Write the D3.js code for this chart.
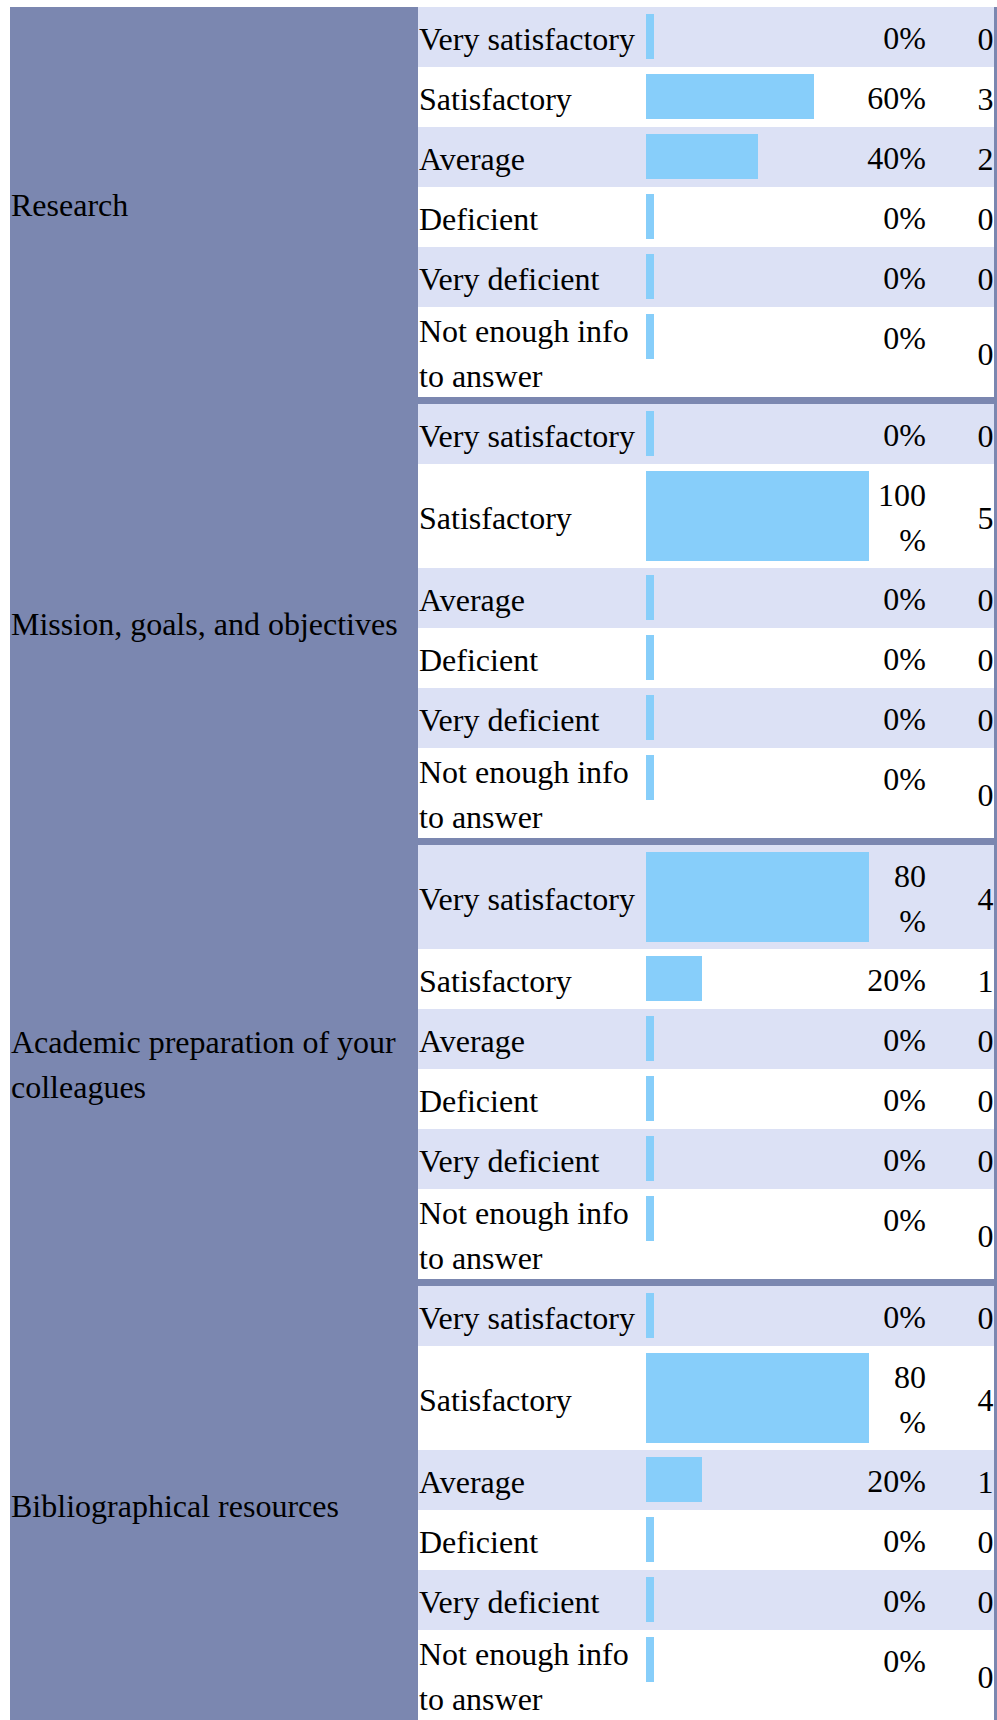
<!DOCTYPE html>
<html>
<head>
<meta charset="utf-8">
<script src="https://cdn.jsdelivr.net/npm/d3@7"></script>
<style>
  html, body { margin: 0; padding: 0; background: #ffffff; }
  svg { display: block; }
  text { font-family: "Liberation Serif", "Times New Roman", Times, serif; font-size: 32px; fill: #000; }
</style>
</head>
<body>
<script>
// ---------------- data ----------------
const groups = [
  "Research",
  "Mission, goals, and objectives",
  "Academic preparation of your colleagues",
  "Bibliographical resources"
];
const answers = [
  "Very satisfactory",
  "Satisfactory",
  "Average",
  "Deficient",
  "Very deficient",
  "Not enough info to answer"
];
const pctResearch   = [0, 60, 40, 0, 0, 0];
const pctMission    = [0, 100, 0, 0, 0, 0];
const pctAcademic   = [80, 20, 0, 0, 0, 0];
const pctBiblio     = [0, 80, 20, 0, 0, 0];
const cntResearch   = [0, 3, 2, 0, 0, 0];
const cntMission    = [0, 5, 0, 0, 0, 0];
const cntAcademic   = [4, 1, 0, 0, 0, 0];
const cntBiblio     = [0, 4, 1, 0, 0, 0];
const pctByGroup = [pctResearch, pctMission, pctAcademic, pctBiblio];
const cntByGroup = [cntResearch, cntMission, cntAcademic, cntBiblio];

// ---------------- layout / style ----------------
const W = 997, H = 1720;
const LINE = 45;            // line height
const TOP = 7;
const LEFT_X = 10, LEFT_END = 418, RIGHT_END = 994;
const LABEL_X = 419, LABEL_W = 226;
const BAR_X = 646, BAR_CELL_W = 223, MIN_BAR = 8, BAR_PAD = 7;
const PCT_RIGHT = 926, CNT_RIGHT = 993.5;
const SEP = 7, MIN_ROW = 60;
const BASE = 35;            // baseline offset inside a line box
const C_PURPLE = "#7b87b0", C_LIGHT = "#dce1f5", C_WHITE = "#ffffff", C_BAR = "#87cefa";

const svg = d3.select("body").append("svg").attr("width", W).attr("height", H);
const x = d3.scaleLinear().domain([0, 100]).range([0, 280]);

// measuring helper
const meas = svg.append("text").attr("x", -1000).attr("y", -1000);
function textW(s) { meas.text(s); return meas.node().getComputedTextLength(); }
function wrap(s, maxW) {
  const words = s.split(" ");
  const lines = [];
  let cur = "";
  words.forEach(w => {
    const t = cur ? cur + " " + w : w;
    if (cur && textW(t) > maxW) { lines.push(cur); cur = w; } else { cur = t; }
  });
  if (cur) lines.push(cur);
  return lines;
}

// background (table frame colour)
svg.append("rect").attr("x", LEFT_X).attr("y", TOP).attr("width", W - LEFT_X).attr("height", H - TOP).attr("fill", C_PURPLE);

const gRows = svg.append("g");
const gText = svg.append("g");

let y = TOP;
groups.forEach((gName, gi) => {
  const groupTop = y;
  answers.forEach((ans, i) => {
    const p = pctByGroup[gi][i];
    const c = cntByGroup[gi][i];
    const labelLines = wrap(ans, LABEL_W);
    const barW = Math.max(MIN_BAR, Math.min(x(p), BAR_CELL_W));
    const pctStr = p + "%";
    const pctWrap = BAR_X + barW + 4 > PCT_RIGHT - textW(pctStr);
    const pctLines = pctWrap ? [String(p), "%"] : [pctStr];
    const rowH = Math.max(MIN_ROW, labelLines.length * LINE, pctLines.length * LINE + 2 * BAR_PAD);

    gRows.append("rect")
      .attr("x", LEFT_END).attr("y", y)
      .attr("width", RIGHT_END - LEFT_END).attr("height", rowH)
      .attr("fill", i % 2 === 0 ? C_LIGHT : C_WHITE);

    gRows.append("rect")
      .attr("x", BAR_X).attr("y", y + BAR_PAD)
      .attr("width", barW).attr("height", pctLines.length * LINE)
      .attr("fill", C_BAR);

    // answer label, vertically centred
    const lTop = y + (rowH - labelLines.length * LINE) / 2;
    labelLines.forEach((ln, k) => {
      gText.append("text").attr("x", LABEL_X).attr("y", lTop + BASE + k * LINE).text(ln);
    });

    // percentage, top aligned
    pctLines.forEach((ln, k) => {
      gText.append("text").attr("x", PCT_RIGHT).attr("y", y + BAR_PAD + BASE + k * LINE)
        .attr("text-anchor", "end").text(ln);
    });

    // count, vertically centred
    gText.append("text").attr("x", CNT_RIGHT).attr("y", y + (rowH - LINE) / 2 + BASE)
      .attr("text-anchor", "end").text(c);

    y += rowH;
  });
  const groupBottom = y;
  const gl = wrap(gName, LEFT_END - LEFT_X - 4);
  const gTop = (groupTop + groupBottom) / 2 - gl.length * LINE / 2;
  gl.forEach((ln, k) => {
    gText.append("text").attr("x", LEFT_X + 1).attr("y", gTop + BASE + 1 + k * LINE).text(ln);
  });
  y += SEP;
});
meas.remove();
</script>
</body>
</html>
